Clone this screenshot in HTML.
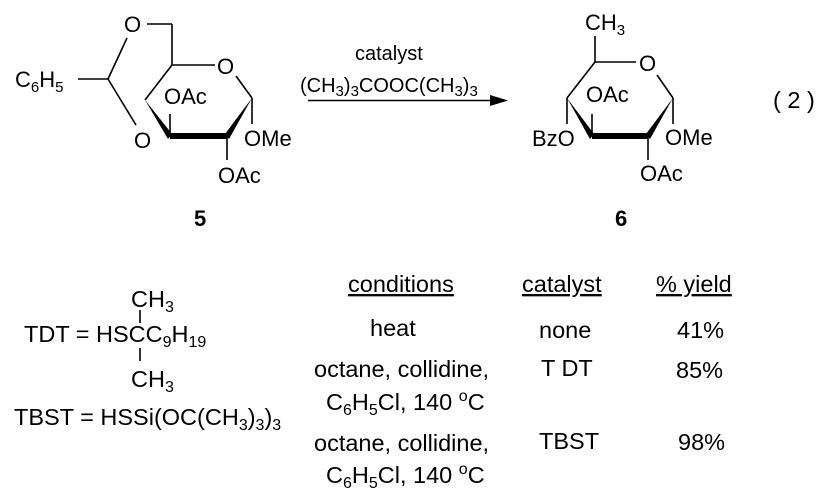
<!DOCTYPE html>
<html><head><meta charset="utf-8"><style>
html,body{margin:0;padding:0;background:#fff;}
svg{display:block;}
text{font-family:"Liberation Sans",Arial,sans-serif;fill:#000;}
</style></head><body>
<svg width="827" height="497" viewBox="0 0 827 497" xmlns="http://www.w3.org/2000/svg">
<g stroke="#000" stroke-width="1.6" fill="none">
<line x1="147" y1="24" x2="172" y2="24"/>
<line x1="172" y1="24" x2="172" y2="65"/>
<line x1="172" y1="65" x2="215" y2="65"/>
<line x1="236" y1="76" x2="252" y2="98"/>
<line x1="145" y1="100" x2="172" y2="65"/>
<line x1="170" y1="136" x2="170" y2="114"/>
<line x1="227" y1="136" x2="227" y2="160"/>
<line x1="252" y1="98" x2="252" y2="124"/>
<line x1="78" y1="79" x2="108" y2="79"/>
<line x1="108" y1="79" x2="127" y2="38"/>
<line x1="108" y1="79" x2="136" y2="125"/>
<line x1="595" y1="36" x2="595" y2="62"/>
<line x1="595" y1="62" x2="636" y2="62"/>
<line x1="657" y1="75" x2="673" y2="98"/>
<line x1="567" y1="98" x2="595" y2="62"/>
<line x1="567" y1="98" x2="567" y2="124"/>
<line x1="592" y1="136" x2="592" y2="114"/>
<line x1="648" y1="136" x2="648" y2="160"/>
<line x1="673" y1="98" x2="673" y2="124"/>
<line x1="308" y1="100.5" x2="495" y2="100.5"/>
<line x1="140" y1="310" x2="140" y2="323"/>
<line x1="140" y1="348" x2="140" y2="361"/>
</g>
<polygon points="145,100 172,134 168,139" fill="#000"/>
<rect x="170" y="133" width="57" height="6" fill="#000"/>
<polygon points="252,98 225,134 229,139" fill="#000"/>
<polygon points="567,98 594,134 590,139" fill="#000"/>
<rect x="592" y="133" width="56" height="6" fill="#000"/>
<polygon points="673,98 646,134 650,139" fill="#000"/>
<polygon points="508,100.5 490,95 490,106" fill="#000"/>

<g font-size="22">
<text x="124" y="32">O</text>
<text x="217" y="74">O</text>
<text x="134" y="148">O</text>
<text x="15" y="87">C<tspan font-size="15" dy="5">6</tspan><tspan dy="-5">H</tspan><tspan font-size="15" dy="5">5</tspan></text>
<text x="164" y="104">OAc</text>
<text x="244" y="146">OMe</text>
<text x="218" y="183">OAc</text>
<text x="194" y="226" font-weight="bold">5</text>

<text x="585" y="30">CH<tspan font-size="15" dy="5">3</tspan></text>
<text x="639" y="71">O</text>
<text x="586" y="102">OAc</text>
<text x="665" y="145">OMe</text>
<text x="532" y="146">BzO</text>
<text x="640" y="181">OAc</text>
<text x="615" y="226" font-weight="bold">6</text>
</g>
<g font-size="23.5">
<text x="773" y="108">( 2 )</text>
<text x="131" y="307">CH<tspan font-size="16" dy="5">3</tspan></text>
<text x="24" y="342">TDT = HSCC<tspan font-size="16" dy="5">9</tspan><tspan dy="-5">H</tspan><tspan font-size="16" dy="5">19</tspan></text>
<text x="131" y="387">CH<tspan font-size="16" dy="5">3</tspan></text>
<text x="14" y="425">TBST = HSSi(OC(CH<tspan font-size="16" dy="5">3</tspan><tspan dy="-5">)</tspan><tspan font-size="16" dy="5">3</tspan><tspan dy="-5">)</tspan><tspan font-size="16" dy="5">3</tspan></text>

<text x="348" y="292" text-decoration="underline">conditions</text>
<text x="522" y="292" text-decoration="underline">catalyst</text>
<text x="656" y="292" text-decoration="underline">% yield</text>
<text x="370" y="336">heat</text>
<text x="539" y="338">none</text>
<text x="677" y="338">41%</text>
<text x="314" y="377">octane, collidine,</text>
<text x="326" y="410">C<tspan font-size="16" dy="5">6</tspan><tspan dy="-5">H</tspan><tspan font-size="16" dy="5">5</tspan><tspan dy="-5">Cl, 140 </tspan><tspan font-size="16" dy="-9">o</tspan><tspan dy="9">C</tspan></text>
<text x="541" y="376">T DT</text>
<text x="676" y="378">85%</text>
<text x="314" y="451">octane, collidine,</text>
<text x="326" y="483">C<tspan font-size="16" dy="5">6</tspan><tspan dy="-5">H</tspan><tspan font-size="16" dy="5">5</tspan><tspan dy="-5">Cl, 140 </tspan><tspan font-size="16" dy="-9">o</tspan><tspan dy="9">C</tspan></text>
<text x="539" y="449">TBST</text>
<text x="678" y="450">98%</text>
</g>
<text x="355" y="60" font-size="20">catalyst</text>
<text x="300" y="92" font-size="20">(CH<tspan font-size="15" dy="4">3</tspan><tspan dy="-4">)</tspan><tspan font-size="15" dy="4">3</tspan><tspan dy="-4">COOC(CH</tspan><tspan font-size="15" dy="4">3</tspan><tspan dy="-4">)</tspan><tspan font-size="15" dy="4">3</tspan></text>
</svg>
</body></html>
